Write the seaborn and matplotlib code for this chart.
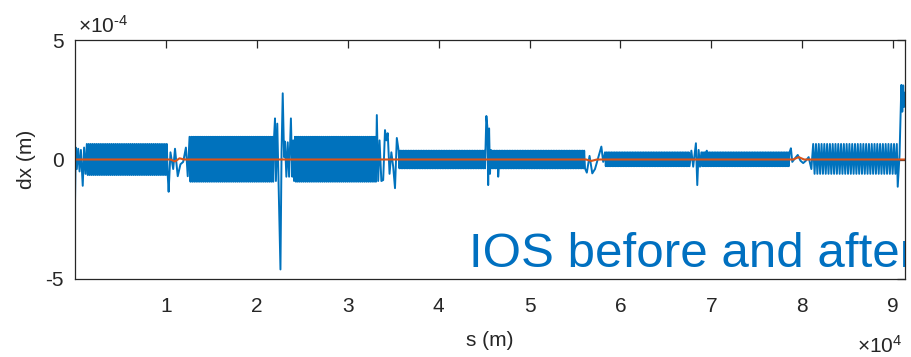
import numpy as np
import pandas as pd
import matplotlib
matplotlib.use("Agg")
import matplotlib.pyplot as plt
import seaborn as sns

# Horizontal orbit along the ring: s in units of 1e4 m, dx in units of 1e-4 m.
# Oscillating stretches (arcs) are described by their extent, envelope and cell count.
band_start = [0.13, 1.26, 2.42, 3.56, 4.58, 5.83, 6.89, 8.12]
band_end = [1.02, 2.19, 3.31, 4.51, 5.61, 6.76, 7.86, 9.04]
band_upper = [0.65, 0.95, 0.95, 0.37, 0.37, 0.30, 0.30, 0.65]
band_lower = [-0.65, -0.93, -0.93, -0.37, -0.37, -0.28, -0.28, -0.60]
band_cells = [17, 18, 17, 21, 23, 21, 22, 12]

# Straight sections, injection region and other localized excursions.
event_s = [0.0, 0.008, 0.02, 0.035, 0.05, 0.065, 0.085, 0.10, 0.115,
           1.03, 1.05, 1.08, 1.10, 1.13, 1.16, 1.19, 1.22, 1.24,
           2.20, 2.21, 2.225, 2.24, 2.26, 2.272, 2.285, 2.30, 2.31, 2.325,
           2.34, 2.355, 2.375, 2.39, 2.40, 2.41,
           3.32, 3.335, 3.35, 3.37, 3.39, 3.41, 3.425, 3.44, 3.46, 3.48,
           3.50, 3.52, 3.54,
           4.525, 4.535, 4.545, 4.555, 4.565, 4.575, 4.655,
           5.63, 5.66, 5.69, 5.72, 5.75, 5.79, 5.81,
           6.78, 6.80, 6.83, 6.845, 6.86, 6.875, 6.95,
           7.875, 7.89, 7.92, 7.95, 7.98, 8.01, 8.04, 8.07, 8.10,
           9.05, 9.07, 9.09, 9.10, 9.11, 9.12, 9.13]
event_dx = [-1.8, 0.5, -0.4, 0.45, -0.5, 0.4, -1.1, 0.5, -0.6,
            -1.35, 0.3, -0.4, 0.45, -0.7, -0.2, -0.1, 0.5, -0.7,
            1.72, -0.9, 1.5, -1.2, -4.6, 0.3, 2.77, 0.1, 0.75, -0.72,
            0.72, -0.72, 1.72, -0.72, 0.8, -0.9,
            1.86, -0.9, 0.8, -0.9, -0.86, 1.23, 0.8, 1.1, -0.6, 0.3,
            -0.3, -1.2, 0.9,
            1.82, 1.4, -1.07, 1.3, -0.6, 0.4, -0.72,
            -0.55, 0.15, -0.58, -0.4, 0.0, 0.54, -0.1,
            0.37, -0.3, 0.68, -1.07, 0.4, -0.3, 0.37,
            0.47, -0.1, 0.05, 0.19, -0.05, -0.15, -0.05, 0.1, -0.4,
            -1.14, 0.2, 3.12, 2.0, 3.1, 2.2, 2.8]

# Residual orbit after correction.
after_s = [0.0, 1.05, 1.10, 1.15, 1.20, 5.62, 5.68, 5.74, 7.90, 7.96, 8.02, 9.13]
after_dx = [0.0, 0.0, -0.08, 0.05, 0.0, 0.0, -0.06, 0.0, 0.0, 0.1, 0.0, 0.0]

x_ticks = [1, 2, 3, 4, 5, 6, 7, 8, 9]
y_ticks = [-5, 0, 5]

# Assemble the "before" orbit from the arc stretches and the localized points.
pts_s, pts_dx = list(event_s), list(event_dx)
for s0, s1, hi, lo, n in zip(band_start, band_end, band_upper, band_lower, band_cells):
    npts = 5 * n + 1
    ss = np.linspace(s0, s1, npts)
    vals = np.where(np.arange(npts) % 2 == 0, hi, lo)
    pts_s.extend(ss)
    pts_dx.extend(vals)
before = pd.DataFrame({"s": pts_s, "dx": pts_dx}).sort_values("s")
after = pd.DataFrame({"s": after_s, "dx": after_dx})

sns.set_theme(style="white")
plt.rcParams["font.family"] = ["Liberation Sans", "DejaVu Sans"]
plt.rcParams["mathtext.fontset"] = "custom"
plt.rcParams["mathtext.rm"] = "Liberation Sans"
plt.rcParams["mathtext.it"] = "Liberation Sans"

fig = plt.figure(figsize=(9.12, 3.57), dpi=100)
ax = fig.add_axes([75 / 912, 78 / 357, 830 / 912, 239 / 357])

blue = "#0072BD"
orange = "#D95319"
sns.lineplot(data=before, x="s", y="dx", ax=ax, color=blue, linewidth=1.4,
             estimator=None, sort=False)
sns.lineplot(data=after, x="s", y="dx", ax=ax, color=orange, linewidth=1.5,
             estimator=None, sort=False)

ax.set_xlim(0, 9.13)
ax.set_ylim(-5, 5)
ax.set_xticks(x_ticks)
ax.set_yticks(y_ticks)
ax.set_xticklabels([str(t) for t in x_ticks])
ax.set_yticklabels([str(t) for t in y_ticks])

dark = "#262626"
ax.tick_params(direction="in", length=6, width=0.9, colors=dark, labelsize=15,
               top=True, right=True)
ax.tick_params(axis="x", pad=13)
ax.tick_params(axis="y", pad=8)
for sp in ax.spines.values():
    sp.set_color(dark)
    sp.set_linewidth(0.9)
    sp.set_visible(True)

ax.set_xlabel("s (m)", fontsize=15, color=dark, labelpad=11)
ax.set_ylabel("dx (m)", fontsize=15, color=dark, labelpad=7)

fig.text(78 / 912, 1 - 33 / 357, r"$\times10^{\text{-}4}$", fontsize=15, color=dark,
         ha="left", va="baseline")
fig.text(902 / 912, 1 - 353 / 357, r"$\times10^{4}$", fontsize=15, color=dark,
         ha="right", va="baseline")

# Slide annotation, clipped to the plotting area.
ttl = ax.text(469, 266.7, "IOS before and after", fontsize=35.5, color="#0070C0",
              ha="left", va="baseline")
ttl.set_transform(matplotlib.transforms.Affine2D().scale(1, -1).translate(0, 357))
ttl.set_clip_box(ax.bbox)
ttl.set_clip_on(True)

fig.savefig("out.png", dpi=100)
